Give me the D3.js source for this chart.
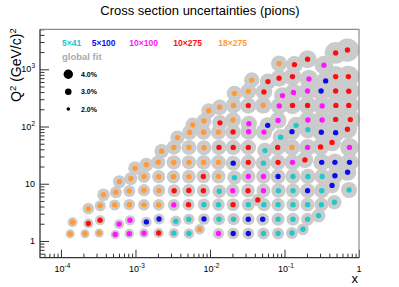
<!DOCTYPE html>
<html>
<head>
<meta charset="utf-8">
<script src="https://cdn.jsdelivr.net/npm/d3@7"></script>
<style>
body { margin: 0; background: #fff; }
svg { display: block; font-family: "Liberation Sans", Arial, Helvetica, sans-serif; }
</style>
</head>
<body>
<svg id="chart" width="399" height="287"></svg>
<script>
// series labels and colours (beam energies)
var seriesNames = ["5\u00d741", "5\u00d7100", "10\u00d7100", "10\u00d7275", "18\u00d7275"];
var seriesColors = ["#20c8c8", "#0c0ce8", "#ff14ff", "#ff0c0c", "#ff9a36"];

// each point: [x, Q2 (GeV/c)^2, global fit uncertainty in %]
var pts5x41 = [
	[3.27e-3, 1.37, 4.3], [5.22e-3, 1.35, 4.4], [5.22e-2, 1.35, 4.9], [8.2e-2, 1.35, 4.9], [0.126, 1.38, 4.9], [0.177, 1.60, 4.8],
	[3.48e-3, 2.22, 4.6], [5.2e-3, 2.40, 4.6], [1.32e-2, 2.40, 4.9], [2.07e-2, 2.40, 5.0], [8.2e-2, 2.40, 5.2], [0.13, 2.40, 5.2],
	[0.204, 2.40, 5.2], [0.287, 2.77, 5.5],
	[8.3e-3, 4.31, 5.0], [1.30e-2, 4.31, 5.1], [3.27e-2, 4.31, 5.2], [5.3e-2, 4.31, 5.3], [8.2e-2, 4.31, 5.4], [0.13, 4.31, 5.4],
	[0.204, 4.31, 5.5], [0.312, 4.31, 5.6], [0.467, 4.75, 5.7],
	[1.33e-2, 7.4, 5.4], [8.3e-2, 7.58, 5.7], [0.13, 7.58, 5.7], [0.316, 7.58, 6.0], [0.735, 7.79, 6.3],
	[2.13e-2, 12.8, 5.7], [0.13, 13.4, 6.0], [0.206, 13.4, 6.0], [0.32, 13.4, 6.1],
	[5.22e-2, 22.9, 6.1], [5.46e-2, 38.0, 6.1], [8.9e-2, 65.2, 6.3], [0.206, 88.2, 6.8], [0.143, 105, 6.6]
];
var pts5x100 = [
	[2.05e-2, 1.35, 4.8], [3.27e-2, 1.35, 4.8],
	[1.40e-3, 2.15, 4.4], [2.07e-3, 2.42, 4.5], [8.3e-3, 2.42, 4.8], [3.27e-2, 2.40, 5.0], [5.1e-2, 2.40, 5.1],
	[0.204, 7.58, 5.9], [0.435, 9.34, 6.1],
	[8.2e-2, 13.4, 5.9], [0.475, 13.8, 6.4], [0.703, 15.9, 6.7],
	[2.05e-2, 22.9, 5.9], [0.316, 23.7, 6.6], [0.475, 23.7, 6.8], [0.745, 23.7, 7.0],
	[0.126, 81.2, 6.6], [0.312, 79.5, 7.0], [0.486, 78, 7.2], [5.95e-2, 105, 6.4],
	[0.31, 418, 7.3], [0.357, 627, 7.3]
];
var pts10x100 = [
	[5.35e-4, 1.30, 3.9], [8.26e-4, 1.34, 4.1], [1.30e-3, 1.37, 4.1], [1.30e-2, 1.35, 4.6],
	[6.03e-4, 1.97, 4.2], [8.44e-4, 2.30, 4.3],
	[3.27e-3, 4.26, 4.9], [2.02e-2, 7.58, 5.4], [5.22e-2, 7.58, 5.6],
	[3.27e-2, 13.4, 5.7], [5.22e-2, 13.4, 5.8], [0.128, 23.7, 6.3],
	[0.204, 43.2, 6.6], [0.745, 43.2, 7.2], [3.3e-2, 81, 6.3], [5.3e-2, 80, 6.4],
	[3.33e-2, 112, 6.3], [8.2e-2, 128, 6.6], [0.206, 130, 6.9], [0.32, 130, 7.1],
	[8.5e-2, 229, 6.6], [0.32, 229, 7.2], [9.38e-2, 347, 6.6], [0.132, 395, 6.8], [0.204, 418, 7.0],
	[0.213, 679, 7.1], [0.338, 1180, 7.2]
];
var pts10x275 = [
	[2.05e-3, 1.38, 4.2], [2.33e-4, 2.02, 4.2], [3.35e-4, 2.31, 4.3],
	[5.15e-3, 4.31, 4.9], [2.04e-2, 4.31, 5.2], [4.38e-2, 5.21, 5.1],
	[3.30e-3, 7.58, 5.2], [5.20e-3, 7.65, 5.2], [8.15e-3, 7.58, 5.3], [3.24e-2, 7.58, 5.5],
	[8.15e-3, 13.4, 5.5], [3.27e-2, 23.7, 6.0], [8.20e-2, 23.7, 6.1], [0.188, 26.1, 6.4],
	[1.32e-2, 43.2, 6.0], [2.05e-2, 43.2, 6.1], [3.27e-2, 43.2, 6.1], [8.1e-2, 43.2, 6.3], [0.305, 44, 6.7], [0.435, 52.7, 6.8],
	[2.04e-2, 80.5, 6.1], [0.70, 89.5, 7.4],
	[1.36e-2, 116, 6.1], [0.486, 133, 7.4], [0.765, 132, 7.7],
	[3.27e-2, 232, 6.3], [0.128, 234, 6.8], [0.204, 234, 7.0], [0.49, 234, 7.5], [0.729, 234, 7.8],
	[5.3e-2, 402, 6.5], [0.486, 418, 7.7], [0.729, 414, 8.0],
	[6.0e-2, 610, 6.4], [8.46e-2, 699, 6.6], [0.128, 745, 6.9], [0.486, 745, 8.0], [0.72, 745, 8.3],
	[0.136, 1210, 6.6], [0.204, 1500, 7.0], [0.486, 1935, 8.3], [0.70, 2170, 8.8]
];
var pts18x275 = [
	[1.33e-4, 1.33, 3.9], [2.10e-4, 1.34, 3.9], [3.26e-4, 1.38, 3.9], [7.28e-3, 1.60, 4.4],
	[1.43e-4, 2.12, 4.2],
	[2.33e-4, 3.66, 4.8], [3.37e-4, 4.12, 4.6], [5.27e-4, 4.26, 4.6], [8.26e-4, 4.31, 4.7], [1.30e-3, 4.28, 4.8], [2.05e-3, 4.26, 4.8],
	[3.72e-4, 6.42, 5.1], [5.46e-4, 7.10, 4.9], [8.26e-4, 7.5, 4.9], [1.30e-3, 7.7, 5.0], [2.07e-3, 7.6, 5.1],
	[6.08e-4, 10.9, 5.2], [8.66e-4, 12.3, 5.2], [1.30e-3, 13.4, 5.2], [2.05e-3, 13.3, 5.3], [3.24e-3, 13.3, 5.4], [5.22e-3, 13.3, 5.5], [1.30e-2, 13.4, 5.6],
	[9.86e-4, 18.7, 5.5], [1.40e-3, 21.5, 5.6], [2.02e-3, 23.8, 5.6], [3.27e-3, 23.6, 5.7], [5.22e-3, 23.7, 5.7], [8.21e-3, 23.6, 5.8], [1.30e-2, 23.6, 5.9],
	[2.24e-3, 37.1, 5.7], [3.27e-3, 43.2, 5.8], [5.22e-3, 43.2, 5.9], [8.3e-3, 42.5, 5.9], [0.126, 43.2, 6.4],
	[3.66e-3, 64.0, 5.7], [5.33e-3, 79, 5.9], [8.21e-3, 79.5, 5.9], [1.30e-2, 79.8, 6.0],
	[5.86e-3, 107, 5.8], [8.3e-3, 125, 5.9], [2.04e-2, 130, 6.2],
	[9.60e-3, 189, 5.9], [1.35e-2, 218, 6.1], [2.07e-2, 234, 6.2], [5.18e-2, 235, 6.5],
	[2.13e-2, 379, 6.1], [3.27e-2, 412, 6.3], [3.63e-2, 647, 6.1], [8.46e-2, 1260, 6.3]
];
var allSeries = [pts5x41, pts5x100, pts10x100, pts10x275, pts18x275];

var legendPct = [4.0, 3.0, 2.0];
var dotPct = 2.6; // marker size of the individual measurement points

var xMajor = [1e-4, 1e-3, 1e-2, 1e-1, 1];
var xMajorLabels = [["10", "-4"], ["10", "-3"], ["10", "-2"], ["10", "-1"], ["1", ""]];
var yMajor = [1, 10, 100, 1000];
var yMajorLabels = [["1", ""], ["10", ""], ["10", "2"], ["10", "3"]];

var svg = d3.select("#chart");

/*Scales*/
var xScale = d3.scaleLog().domain([5.23e-5, 1]).range([40, 359]);
var yScale = d3.scaleLog().domain([0.51, 5000]).range([257.7, 29.3]);
var rScale = d3.scaleLinear().domain([2, 4]).range([1.8, 4.7]);

var frameL = 40, frameR = 359, frameT = 29.3, frameB = 257.7;

function minors(dom, decades) {
	var out = [];
	decades.forEach(function(d) {
		for (var k = 2; k <= 9; k++) {
			var v = k * d;
			if (v >= dom[0] && v <= dom[1]) out.push(v);
		}
	});
	return out;
}

/*Title*/
svg.append("text")
	.attr("x", 200).attr("y", 15)
	.attr("text-anchor", "middle")
	.attr("font-size", 13)
	.text("Cross section uncertainties (pions)");

/*Gray global fit circles, then the coloured points*/
var plot = svg.append("g");
var flat = [];
allSeries.forEach(function(s, i) {
	s.forEach(function(p) { flat.push({x: p[0], q2: p[1], fit: p[2], s: i}); });
});

plot.selectAll("circle.fit")
	.data(flat)
	.enter().append("circle")
	.attr("class", "fit")
	.attr("cx", function(d) { return xScale(d.x); })
	.attr("cy", function(d) { return yScale(d.q2); })
	.attr("r", function(d) { return rScale(d.fit); })
	.attr("fill", "#cbcbcb");

plot.selectAll("circle.pt")
	.data(flat)
	.enter().append("circle")
	.attr("class", "pt")
	.attr("cx", function(d) { return xScale(d.x); })
	.attr("cy", function(d) { return yScale(d.q2); })
	.attr("r", rScale(dotPct))
	.attr("fill", function(d) { return seriesColors[d.s]; });

/*Axes*/
var xMinor = minors(xScale.domain(), [1e-5, 1e-4, 1e-3, 1e-2, 1e-1]);
var yMinor = minors(yScale.domain(), [0.1, 1, 10, 100, 1000]);

var gx = svg.append("g").attr("transform", "translate(0," + frameB + ")");
gx.call(d3.axisBottom(xScale).tickValues(xMajor).tickSize(-8).tickFormat(""));
gx.append("g").call(d3.axisBottom(xScale).tickValues(xMinor).tickSize(-4).tickFormat(""));
gx.selectAll(".domain").remove();

var gy = svg.append("g").attr("transform", "translate(" + frameL + ",0)");
gy.call(d3.axisLeft(yScale).tickValues(yMajor).tickSize(-9).tickFormat(""));
gy.append("g").call(d3.axisLeft(yScale).tickValues(yMinor).tickSize(-4.5).tickFormat(""));
gy.selectAll(".domain").remove();
svg.selectAll(".tick line").attr("stroke", "#333");

// frame
svg.append("path")
	.attr("d", "M" + frameL + "," + frameT + "H" + frameR + "V" + frameB)
	.attr("fill", "none").attr("stroke", "#8c8c8c").attr("stroke-width", 1.2);
svg.append("path")
	.attr("d", "M" + frameL + "," + frameT + "V" + frameB + "H" + frameR)
	.attr("fill", "none").attr("stroke", "#333").attr("stroke-width", 1.3);

/*Tick labels*/
xMajor.forEach(function(v, i) {
	var t = svg.append("text")
		.attr("x", xScale(v) + (xMajorLabels[i][1] ? 1.5 : 0)).attr("y", 271.5)
		.attr("text-anchor", "middle")
		.attr("font-size", 9);
	t.append("tspan").text(xMajorLabels[i][0]);
	if (xMajorLabels[i][1]) t.append("tspan").attr("dy", -4).attr("font-size", 6.5).text(xMajorLabels[i][1]);
});
yMajor.forEach(function(v, i) {
	var t = svg.append("text")
		.attr("x", 35).attr("y", yScale(v) + 3)
		.attr("text-anchor", "end")
		.attr("font-size", 9);
	t.append("tspan").text(yMajorLabels[i][0]);
	if (yMajorLabels[i][1]) t.append("tspan").attr("dy", -4).attr("font-size", 6.5).text(yMajorLabels[i][1]);
});

/*Axis titles*/
svg.append("text")
	.attr("x", frameR - 1).attr("y", 283)
	.attr("text-anchor", "end")
	.attr("font-size", 13)
	.text("x");

var yt = svg.append("text")
	.attr("transform", "translate(21," + (frameT - 1) + ") rotate(-90)")
	.attr("text-anchor", "end")
	.attr("font-size", 14);
yt.append("tspan").text("Q");
yt.append("tspan").attr("dy", -5.5).attr("font-size", 9.5).text("2");
yt.append("tspan").attr("dy", 5.5).text(" (GeV/c)");
yt.append("tspan").attr("dy", -5.5).attr("font-size", 9.5).text("2");

/*Legend*/
var legX = [62, 91.7, 129.3, 173.3, 218.3];
seriesNames.forEach(function(n, i) {
	svg.append("text")
		.attr("x", legX[i]).attr("y", 46)
		.attr("font-size", 8.5)
		.attr("font-weight", "bold")
		.attr("fill", seriesColors[i])
		.text(n);
});
svg.append("text")
	.attr("x", 62).attr("y", 59.5)
	.attr("font-size", 9.5)
	.attr("font-weight", "bold")
	.attr("fill", "#aaaaaa")
	.text("global fit");

var legY = [74.3, 91.7, 109];
legendPct.forEach(function(p, i) {
	svg.append("circle")
		.attr("cx", 68.3).attr("cy", legY[i])
		.attr("r", rScale(p))
		.attr("fill", "#000");
	svg.append("text")
		.attr("x", 81).attr("y", legY[i] + 2.6)
		.attr("font-size", 7)
		.attr("font-weight", "bold")
		.text(d3.format(".1f")(p) + "%");
});
</script>
</body>
</html>
